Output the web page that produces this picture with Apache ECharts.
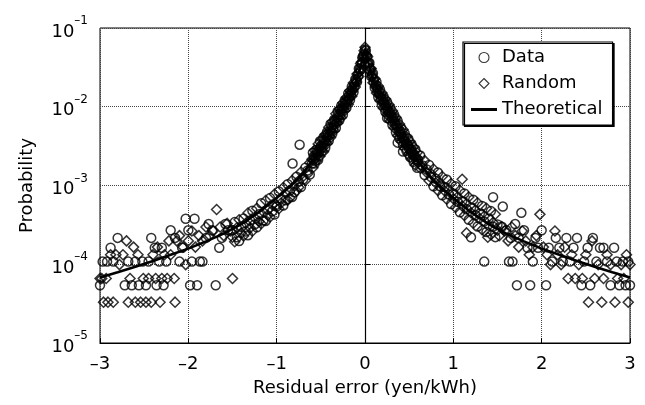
<!DOCTYPE html>
<html>
<head>
<meta charset="utf-8">
<title>Residual error distribution</title>
<script src="https://cdn.jsdelivr.net/npm/echarts@6/dist/echarts.min.js"></script>
<style>
  html, body { margin: 0; padding: 0; background: #fff; }
  #main { width: 645px; height: 405px; }
</style>
</head>
<body>
<div id="main"></div>
<script>
// bin centres of the dense core and of the shoulders
var coreX = [-0.6, -0.58, -0.56, -0.54, -0.52, -0.5, -0.48, -0.46, -0.44, -0.42, -0.4, -0.38, -0.36, -0.34, -0.32,
  -0.3, -0.28, -0.26, -0.24, -0.22, -0.2, -0.18, -0.16, -0.14, -0.12, -0.1, -0.08, -0.06, -0.04, -0.02, 0,
  0.02, 0.04, 0.06, 0.08, 0.1, 0.12, 0.14, 0.16, 0.18, 0.2, 0.22, 0.24, 0.26, 0.28, 0.3,
  0.32, 0.34, 0.36, 0.38, 0.4, 0.42, 0.44, 0.46, 0.48, 0.5, 0.52, 0.54, 0.56, 0.58, 0.6];
var coreX2 = [-0.59, -0.57, -0.55, -0.53, -0.51, -0.49, -0.47, -0.45, -0.43, -0.41, -0.39, -0.37, -0.35, -0.33, -0.31,
  -0.29, -0.27, -0.25, -0.23, -0.21, -0.19, -0.17, -0.15, -0.13, -0.11, -0.09, -0.07, -0.05, -0.03, -0.01,
  0.01, 0.03, 0.05, 0.07, 0.09, 0.11, 0.13, 0.15, 0.17, 0.19, 0.21, 0.23, 0.25, 0.27, 0.29,
  0.31, 0.33, 0.35, 0.37, 0.39, 0.41, 0.43, 0.45, 0.47, 0.49, 0.51, 0.53, 0.55, 0.57, 0.59];
var midX = [-1.5, -1.45, -1.4, -1.35, -1.3, -1.25, -1.2, -1.15, -1.1, -1.05, -1, -0.95, -0.9, -0.85, -0.8, -0.75, -0.7, -0.65,
  0.65, 0.7, 0.75, 0.8, 0.85, 0.9, 0.95, 1, 1.05, 1.1, 1.15, 1.2, 1.25, 1.3, 1.35, 1.4, 1.45, 1.5];
var midX2 = [-1.475, -1.425, -1.375, -1.325, -1.275, -1.225, -1.175, -1.125, -1.075, -1.025, -0.975, -0.925, -0.875,
  -0.825, -0.775, -0.725, -0.675, -0.625,
  0.625, 0.675, 0.725, 0.775, 0.825, 0.875, 0.925, 0.975, 1.025, 1.075, 1.125, 1.175, 1.225, 1.275, 1.325, 1.375,
  1.425, 1.475];

// Data (circles)
var dataCoreP = [0.0019, 0.00235, 0.00225, 0.0027, 0.00262, 0.00318, 0.00305, 0.00372, 0.00365, 0.0045, 0.0044,
  0.0054, 0.0053, 0.0066, 0.0065, 0.00795, 0.0079, 0.0095, 0.0096, 0.0114, 0.0116, 0.0137, 0.0142, 0.0171,
  0.0181, 0.022, 0.0244, 0.0302, 0.0345, 0.0446, 0.0535,
  0.0428, 0.0362, 0.0288, 0.0257, 0.0208, 0.0191, 0.0161, 0.0152, 0.0128, 0.0124, 0.0106, 0.0104, 0.0088,
  0.0086, 0.0073, 0.00715, 0.00605, 0.00585, 0.0049, 0.00485, 0.0041, 0.00402, 0.0034, 0.00335, 0.0029,
  0.00288, 0.00245, 0.00245, 0.0021, 0.00212];
var dataCoreP2 = [0.00261, 0.0019, 0.00282, 0.00212, 0.00365, 0.00272, 0.00407, 0.00302, 0.00479, 0.00372, 0.00603,
  0.00457, 0.00684, 0.00537, 0.00871, 0.00676, 0.0102, 0.00794, 0.012, 0.00977, 0.0148, 0.0122, 0.018, 0.0153,
  0.0224, 0.0207, 0.0305, 0.0295, 0.0422, 0.0457,
  0.0513, 0.0359, 0.0363, 0.0243, 0.0266, 0.0174, 0.0207, 0.0133, 0.0164, 0.0105, 0.0135, 0.00871, 0.0115,
  0.00708, 0.00955, 0.00589, 0.00794, 0.00473, 0.00661, 0.00398, 0.00537, 0.00324, 0.00457, 0.00275, 0.00394,
  0.0023, 0.00328, 0.002, 0.00287, 0.00168];
var dataMidP = [2.7e-4, 2.2e-4, 3.0e-4, 2.6e-4, 3.6e-4, 3.2e-4, 4.3e-4, 3.6e-4, 5.0e-4, 4.7e-4, 5.4e-4, 6.8e-4,
  6.5e-4, 8.6e-4, 8.2e-4, 1.12e-3, 1.2e-3, 1.55e-3,
  1.8e-3, 1.6e-3, 1.28e-3, 1.22e-3, 9.8e-4, 9.6e-4, 7.7e-4, 7.9e-4, 6.2e-4, 6.3e-4, 5.0e-4, 5.2e-4, 4.2e-4,
  4.4e-4, 3.5e-4, 3.8e-4, 3.0e-4, 3.2e-4];
var dataMidP2 = [3.43e-4, 1.97e-4, 3.8e-4, 2.34e-4, 4.79e-4, 2.95e-4, 5.96e-4, 3.55e-4, 6.92e-4, 4.27e-4, 8.41e-4,
  5.56e-4, 1.04e-3, 7.16e-4, 1.29e-3, 9.55e-4, 1.68e-3, 1.38e-3,
  2.4e-3, 1.36e-3, 1.82e-3, 9.77e-4, 1.46e-3, 7.5e-4, 1.19e-3, 5.82e-4, 9.77e-4, 4.57e-4, 7.94e-4, 3.67e-4,
  6.61e-4, 3.02e-4, 5.5e-4, 2.57e-4, 4.73e-4, 2.21e-4];
var dataTailL = [[-3, 5.4e-5], [-2.97, 1.08e-4], [-2.92, 1.08e-4], [-2.88, 1.62e-4], [-2.85, 1.08e-4], [-2.8, 2.16e-4],
  [-2.72, 5.4e-5], [-2.68, 1.08e-4], [-2.64, 5.4e-5], [-2.6, 1.08e-4], [-2.56, 5.4e-5], [-2.52, 1.08e-4],
  [-2.48, 5.4e-5], [-2.45, 1.08e-4], [-2.42, 2.16e-4], [-2.38, 1.62e-4], [-2.36, 5.4e-5], [-2.33, 1.08e-4],
  [-2.3, 1.62e-4], [-2.28, 5.4e-5], [-2.25, 1.08e-4], [-2.2, 2.7e-4], [-2.15, 2.16e-4], [-2.1, 1.08e-4],
  [-2.07, 1.62e-4], [-2.03, 3.78e-4], [-2, 2.7e-4], [-1.98, 5.4e-5], [-1.96, 1.08e-4], [-1.93, 3.78e-4],
  [-1.9, 5.4e-5], [-1.87, 1.08e-4], [-1.84, 1.08e-4], [-1.8, 2.16e-4], [-1.77, 3.24e-4], [-1.73, 2.7e-4],
  [-1.69, 5.4e-5], [-1.65, 1.62e-4], [-1.62, 2.16e-4], [-1.58, 3.24e-4], [-1.55, 2.7e-4]];
var dataTailR = [[1.55, 3.0e-4], [1.56, 5.4e-4], [1.6, 2.7e-4], [1.63, 1.08e-4], [1.65, 2.16e-4], [1.67, 1.08e-4],
  [1.7, 3.24e-4], [1.72, 5.4e-5], [1.74, 2.16e-4], [1.77, 4.5e-4], [1.8, 2.7e-4], [1.84, 1.62e-4], [1.87, 5.4e-5],
  [1.9, 1.08e-4], [1.93, 2.16e-4], [1.96, 1.62e-4], [2, 2.7e-4], [2.05, 5.4e-5], [2.08, 1.62e-4], [2.12, 1.08e-4],
  [2.16, 2.16e-4], [2.2, 1.62e-4], [2.24, 1.08e-4], [2.28, 2.16e-4], [2.32, 1.08e-4], [2.36, 1.62e-4],
  [2.4, 2.16e-4], [2.45, 5.4e-5], [2.48, 1.08e-4], [2.52, 1.62e-4], [2.55, 5.4e-5], [2.58, 2.16e-4],
  [2.62, 1.08e-4], [2.66, 1.62e-4], [2.7, 1.62e-4], [2.74, 1.08e-4], [2.78, 5.4e-5], [2.82, 1.62e-4],
  [2.85, 1.08e-4], [2.88, 5.4e-5], [2.92, 1.08e-4], [2.95, 5.4e-5], [2.98, 1.08e-4], [3, 5.4e-5]];
var dataExtra = [[-0.74, 3.3e-3], [-0.82, 1.9e-3], [0.25, 7.2e-3], [0.37, 3.5e-3], [0.43, 2.7e-3],
  [1.2, 2.2e-4], [1.35, 1.08e-4], [1.45, 7.1e-4]];

// Random (diamonds)
var randCoreP = [0.00215, 0.00208, 0.0025, 0.00244, 0.00292, 0.00288, 0.0034, 0.00338, 0.0041, 0.00408, 0.0049,
  0.00488, 0.0059, 0.006, 0.00725, 0.00722, 0.0087, 0.0087, 0.0105, 0.0105, 0.0126, 0.0126, 0.0155, 0.0158,
  0.0194, 0.0205, 0.0262, 0.0282, 0.037, 0.042, 0.057,
  0.045, 0.0345, 0.0305, 0.0243, 0.0222, 0.0179, 0.0172, 0.0142, 0.0138, 0.0115, 0.0115, 0.00955, 0.0096,
  0.00795, 0.00795, 0.0066, 0.0066, 0.0054, 0.00538, 0.00448, 0.00446, 0.00372, 0.0037, 0.0031, 0.00315,
  0.00265, 0.00268, 0.00228, 0.0023, 0.00196];
var randCoreP2 = [0.00168, 0.00281, 0.00204, 0.00336, 0.00236, 0.00385, 0.00269, 0.00447, 0.00339, 0.0055, 0.00407,
  0.00646, 0.00495, 0.00813, 0.00617, 0.00933, 0.00724, 0.0112, 0.00891, 0.0132, 0.0107, 0.016, 0.0136, 0.0202,
  0.0178, 0.026, 0.0243, 0.0355, 0.0367, 0.0513,
  0.0457, 0.0432, 0.0288, 0.0305, 0.0202, 0.0229, 0.015, 0.0184, 0.0119, 0.0151, 0.00955, 0.0126, 0.00794,
  0.0107, 0.00661, 0.00891, 0.00537, 0.00733, 0.00427, 0.00603, 0.00363, 0.00513, 0.00295, 0.00417, 0.00248,
  0.00365, 0.00217, 0.00309, 0.00181, 0.00261];
var randMidP = [2.2e-4, 2.9e-4, 2.5e-4, 3.3e-4, 2.9e-4, 3.9e-4, 3.5e-4, 4.6e-4, 4.2e-4, 5.7e-4, 5.6e-4, 6.0e-4,
  7.9e-4, 7.0e-4, 9.8e-4, 9.5e-4, 1.3e-3, 1.4e-3,
  1.7e-3, 1.45e-3, 1.4e-3, 1.08e-3, 1.08e-3, 8.6e-4, 8.9e-4, 6.8e-4, 7.2e-4, 5.5e-4, 5.9e-4, 4.5e-4, 4.9e-4,
  3.8e-4, 4.1e-4, 3.1e-4, 3.4e-4, 2.7e-4];
var randMidP2 = [1.93e-4, 3.67e-4, 2.29e-4, 4.47e-4, 2.63e-4, 5.13e-4, 3.27e-4, 6.46e-4, 3.98e-4, 7.76e-4, 5.07e-4,
  9.44e-4, 6.53e-4, 1.16e-3, 8.51e-4, 1.48e-3, 1.16e-3, 1.95e-3,
  1.66e-3, 2.07e-3, 1.15e-3, 1.62e-3, 8.61e-4, 1.3e-3, 6.68e-4, 1.06e-3, 5.25e-4, 8.71e-4, 4.17e-4, 7.16e-4,
  3.31e-4, 6.03e-4, 2.75e-4, 5.13e-4, 2.37e-4, 4.32e-4];
var randTailL = [[-3, 6.6e-5], [-2.98, 6.6e-5], [-2.96, 3.3e-5], [-2.93, 6.6e-5], [-2.91, 3.3e-5], [-2.88, 1.32e-4],
  [-2.85, 3.3e-5], [-2.82, 1.32e-4], [-2.78, 9.9e-5], [-2.74, 1.32e-4], [-2.7, 1.98e-4], [-2.68, 3.3e-5],
  [-2.66, 6.6e-5], [-2.62, 1.65e-4], [-2.6, 3.3e-5], [-2.57, 1.32e-4], [-2.54, 3.3e-5], [-2.51, 6.6e-5],
  [-2.48, 3.3e-5], [-2.45, 6.6e-5], [-2.42, 3.3e-5], [-2.4, 1.32e-4], [-2.37, 6.6e-5], [-2.35, 1.65e-4],
  [-2.32, 3.3e-5], [-2.3, 6.6e-5], [-2.27, 1.32e-4], [-2.24, 6.6e-5], [-2.22, 1.98e-4], [-2.2, 1.32e-4],
  [-2.16, 6.6e-5], [-2.15, 3.3e-5], [-2.13, 1.98e-4], [-2.1, 2.31e-4], [-2.06, 1.65e-4], [-2.03, 9.9e-5],
  [-2, 1.98e-4], [-1.96, 2.64e-4], [-1.92, 1.65e-4], [-1.88, 2.31e-4], [-1.84, 1.98e-4], [-1.8, 2.97e-4],
  [-1.76, 2.31e-4], [-1.72, 2.64e-4], [-1.68, 4.95e-4], [-1.64, 2.97e-4], [-1.6, 2.31e-4], [-1.56, 3.3e-4],
  [-1.52, 2.64e-4], [-1.5, 6.6e-5]];
var randTailR = [[1.52, 2.3e-4], [1.55, 3.0e-4], [1.58, 2.64e-4], [1.62, 1.98e-4], [1.66, 2.97e-4], [1.7, 2.31e-4],
  [1.74, 1.65e-4], [1.78, 2.64e-4], [1.82, 1.98e-4], [1.86, 1.32e-4], [1.9, 1.65e-4], [1.94, 2.31e-4],
  [1.98, 4.3e-4], [2.02, 1.65e-4], [2.06, 1.32e-4], [2.1, 9.9e-5], [2.15, 2.64e-4], [2.18, 1.32e-4],
  [2.22, 9.9e-5], [2.26, 1.65e-4], [2.3, 6.6e-5], [2.34, 1.32e-4], [2.38, 6.6e-5], [2.42, 9.9e-5],
  [2.46, 6.6e-5], [2.5, 1.32e-4], [2.53, 3.3e-5], [2.57, 1.98e-4], [2.6, 6.6e-5], [2.64, 9.9e-5],
  [2.68, 3.3e-5], [2.7, 6.6e-5], [2.74, 1.32e-4], [2.78, 9.9e-5], [2.83, 3.3e-5], [2.86, 6.6e-5],
  [2.9, 9.9e-5], [2.93, 6.6e-5], [2.96, 1.32e-4], [2.98, 3.3e-5], [3, 9.9e-5]];
var randExtra = [[1.1, 1.2e-3], [1.15, 2.5e-4], [1.39, 2.2e-4]];

// Theoretical curve
var theoX = [-3, -2.8, -2.6, -2.4, -2.2, -2, -1.8, -1.6, -1.4, -1.2, -1, -0.9, -0.8, -0.7, -0.6, -0.5, -0.4, -0.3,
  -0.2, -0.15, -0.1, -0.06, -0.03, 0, 0.03, 0.06, 0.1, 0.15, 0.2, 0.3, 0.4, 0.5, 0.6, 0.7, 0.8, 0.9, 1, 1.2,
  1.4, 1.6, 1.8, 2, 2.2, 2.4, 2.6, 2.8, 3];
var theoP = [6.8e-5, 7.9e-5, 9.3e-5, 1.1e-4, 1.32e-4, 1.58e-4, 1.95e-4, 2.45e-4, 3.24e-4, 4.57e-4, 6.92e-4,
  8.71e-4, 1.1e-3, 1.45e-3, 2.04e-3, 3.02e-3, 4.68e-3, 7.59e-3, 1.2e-2, 1.57e-2, 2.14e-2, 2.95e-2, 3.9e-2,
  5.5e-2, 3.9e-2, 2.95e-2, 2.14e-2, 1.57e-2, 1.2e-2, 7.59e-3, 4.68e-3, 3.02e-3, 2.04e-3, 1.45e-3, 1.1e-3,
  8.71e-4, 6.92e-4, 4.57e-4, 3.24e-4, 2.45e-4, 1.95e-4, 1.58e-4, 1.32e-4, 1.1e-4, 9.3e-5, 7.9e-5, 6.8e-5];

var xTicks = [-3, -2, -1, 0, 1, 2, 3];

function zip(xs, ps) {
  return xs.map(function (x, i) { return [x, ps[i]]; });
}

var FONT = 'DejaVu Sans';
var chart = echarts.init(document.getElementById('main'));

var hollow = { color: 'rgba(0,0,0,0)', borderColor: '#000', borderWidth: 1.5 };

var option = {
  animation: false,
  backgroundColor: '#fff',
  textStyle: { fontFamily: FONT, color: '#000' },
  grid: { left: 100, right: 15, top: 28, bottom: 62, show: true, borderColor: '#000', borderWidth: 1 },
  legend: {
    orient: 'vertical',
    left: 463,
    top: 42,
    backgroundColor: '#fff',
    borderColor: '#000',
    borderWidth: 1.2,
    borderRadius: 0,
    shadowColor: '#000',
    shadowOffsetX: 1.5,
    shadowOffsetY: 1.5,
    padding: [4, 10, 4, 8],
    itemGap: 3,
    itemWidth: 26,
    itemHeight: 10,
    textStyle: { fontFamily: FONT, fontSize: 18, color: '#000', lineHeight: 23 },
    data: [
      { name: 'Data', icon: 'circle', itemStyle: { borderWidth: 1.1 } },
      { name: 'Random', icon: 'path://M5,0L10,5L5,10L0,5Z', itemStyle: { borderWidth: 1.1 } },
      { name: 'Theoretical', icon: 'path://M0,0H26V3H0Z', itemStyle: { color: '#000', borderWidth: 0 } }
    ]
  },
  xAxis: {
    type: 'value',
    min: -3, max: 3, interval: 1,
    name: 'Residual error (yen/kWh)',
    nameLocation: 'middle',
    nameGap: 36,
    nameTextStyle: { fontFamily: FONT, fontSize: 18, color: '#000' },
    axisLine: { lineStyle: { color: '#000', width: 1.2 } },
    axisTick: { inside: true, length: 5, lineStyle: { color: '#000' } },
    axisLabel: {
      fontFamily: FONT, fontSize: 18, color: '#000', margin: 12,
      formatter: function (v) {
        return xTicks.indexOf(v) < 0 ? '' : (v < 0 ? '\u2013' + (-v) : String(v));
      }
    },
    splitLine: { show: true, lineStyle: { color: '#444', type: 'dotted', width: 1 } }
  },
  yAxis: {
    type: 'log',
    logBase: 10,
    min: 1e-5, max: 1e-1,
    name: 'Probability',
    nameLocation: 'middle',
    nameGap: 64,
    nameTextStyle: { fontFamily: FONT, fontSize: 18, color: '#000' },
    axisLine: { lineStyle: { color: '#000', width: 1.2 } },
    axisTick: { inside: true, length: 5, lineStyle: { color: '#000' } },
    axisLabel: {
      margin: 12,
      formatter: function (v) {
        var e = Math.round(Math.log10(v));
        return '{b|10}{e|' + (e < 0 ? '\u2013' + (-e) : e) + '}';
      },
      rich: {
        b: { fontFamily: FONT, fontSize: 18, color: '#000', lineHeight: 26, verticalAlign: 'bottom' },
        e: { fontFamily: FONT, fontSize: 12, color: '#000', lineHeight: 14, verticalAlign: 'top' }
      }
    },
    splitLine: { show: true, lineStyle: { color: '#444', type: 'dotted', width: 1 } }
  },
  series: [
    {
      name: 'Data',
      type: 'scatter',
      symbol: 'circle',
      symbolSize: 9,
      itemStyle: hollow,
      data: zip(coreX, dataCoreP).concat(zip(coreX2, dataCoreP2), zip(midX, dataMidP), zip(midX2, dataMidP2),
        dataTailL, dataTailR, dataExtra)
    },
    {
      name: 'Random',
      type: 'scatter',
      symbol: 'diamond',
      symbolSize: 10,
      itemStyle: hollow,
      data: zip(coreX, randCoreP).concat(zip(coreX2, randCoreP2), zip(midX, randMidP), zip(midX2, randMidP2),
        randTailL, randTailR, randExtra)
    },
    {
      name: 'Theoretical',
      type: 'line',
      symbol: 'none',
      lineStyle: { color: '#000', width: 2.6 },
      itemStyle: { color: '#000' },
      z: 5,
      data: zip(theoX, theoP)
    }
  ]
};

chart.setOption(option);
</script>
</body>
</html>
